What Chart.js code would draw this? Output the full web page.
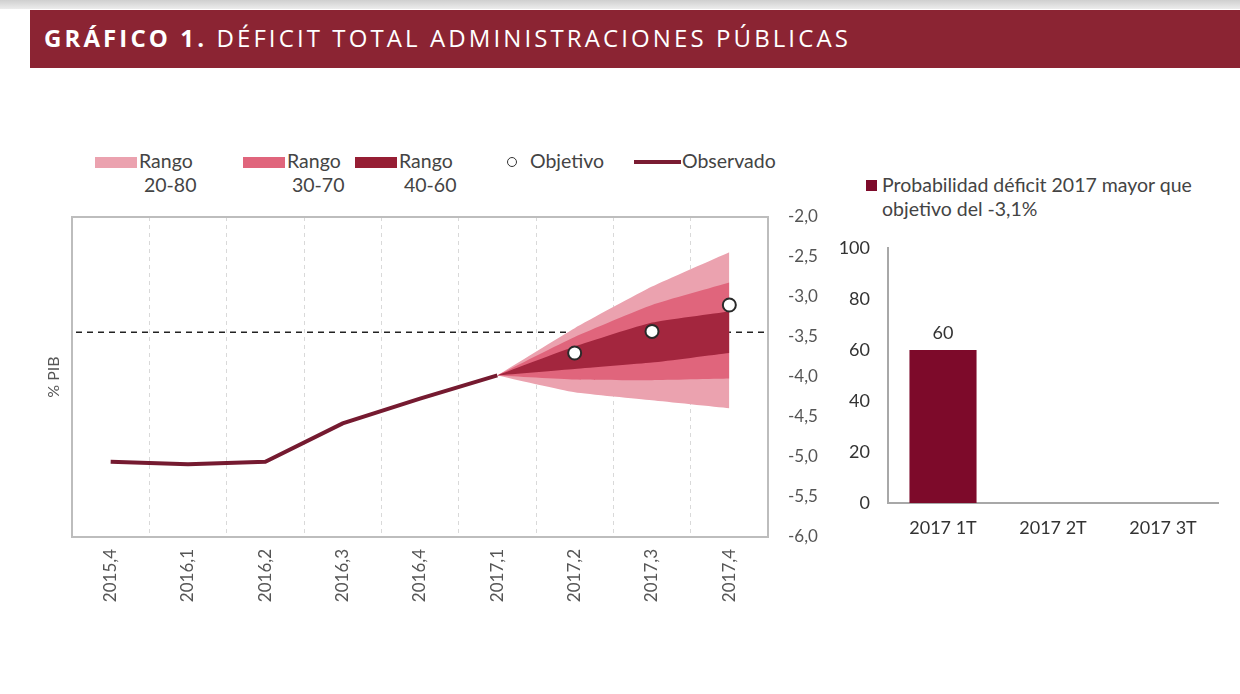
<!DOCTYPE html>
<html>
<head>
<meta charset="utf-8">
<script src="https://cdn.jsdelivr.net/npm/chart.js@4.4.1/dist/chart.umd.min.js"></script>
<style>
  html, body { margin: 0; padding: 0; background: #fff; }
  body { width: 1240px; height: 694px; position: relative; overflow: hidden; font-family: Lato, "Open Sans", sans-serif; }
  .topstrip { position: absolute; left: 0; top: 0; width: 1240px; height: 9px; background: linear-gradient(#cfcfcf, #ececec); }
  .titlebar { position: absolute; left: 30px; top: 10px; width: 1210px; height: 58px; background: #8b2433; }
  .titlebar span { position: absolute; left: 14px; top: 11px; color: #fff; font-family: "Open Sans", sans-serif; font-size: 24px; letter-spacing: 3.1px; white-space: nowrap; }
  .lg { position: absolute; font-size: 19.5px; color: #444; line-height: 24px; }
  .sw { position: absolute; width: 42px; height: 11px; }
  #c1wrap { position: absolute; left: 0; top: 200px; width: 840px; height: 420px; }
  #c2wrap { position: absolute; left: 840px; top: 230px; width: 400px; height: 330px; }
</style>
</head>
<body>
<div class="topstrip"></div>
<div class="titlebar"><span><b>GRÁFICO 1.</b> DÉFICIT TOTAL ADMINISTRACIONES PÚBLICAS</span></div>

<div class="sw" style="left:95px;top:157px;background:#eba2af;"></div>
<div class="lg" style="left:139px;top:149px;">Rango<br>&nbsp;20-80</div>
<div class="sw" style="left:243px;top:157px;background:#e0657c;"></div>
<div class="lg" style="left:287px;top:149px;">Rango<br>&nbsp;30-70</div>
<div class="sw" style="left:355px;top:157px;background:#961e34;"></div>
<div class="lg" style="left:399px;top:149px;">Rango<br>&nbsp;40-60</div>
<div style="position:absolute;left:507px;top:157px;width:8px;height:8px;border:1.5px solid #333;border-radius:50%;background:#fff;"></div>
<div class="lg" style="left:530px;top:149px;">Objetivo</div>
<div style="position:absolute;left:634px;top:160px;width:47px;height:4px;background:#7a1c32;"></div>
<div class="lg" style="left:682px;top:149px;">Observado</div>

<div style="position:absolute;left:866px;top:180px;width:11px;height:11px;background:#7d0a2a;"></div>
<div class="lg" style="left:882px;top:173px;">Probabilidad déficit 2017 mayor que<br>objetivo del -3,1%</div>

<div id="c1wrap"><canvas id="c1"></canvas></div>
<div id="c2wrap"><canvas id="c2"></canvas></div>

<script>
// ---- data ----
const periods = ["2015,4","2016,1","2016,2","2016,3","2016,4","2017,1","2017,2","2017,3","2017,4"];
const observado = [-5.06, -5.09, -5.06, -4.58, -4.27, -3.98, null, null, null];
const objetivo  = [null, null, null, null, null, null, -3.7, -3.43, -3.1];
const rango2080Top = [null, null, null, null, null, -3.98, -3.39, -2.87, -2.44];
const rango2080Bot = [null, null, null, null, null, -3.98, -4.19, -4.29, -4.39];
const rango3070Top = [null, null, null, null, null, -3.98, -3.5, -3.1, -2.82];
const rango3070Bot = [null, null, null, null, null, -3.98, -4.03, -4.04, -4.02];
const rango4060Top = [null, null, null, null, null, -3.98, -3.62, -3.32, -3.18];
const rango4060Bot = [null, null, null, null, null, -3.98, -3.9, -3.82, -3.7];
const referenceLine = -3.44;
const yTicks = [-2, -2.5, -3, -3.5, -4, -4.5, -5, -5.5, -6];

const barCategories = ["2017 1T", "2017 2T", "2017 3T"];
const probabilidad = [60, null, null];

Chart.defaults.font.family = "Lato, 'Open Sans', sans-serif";
Chart.defaults.animation = false;

const boxPlugin = {
  id: 'box',
  beforeDatasetsDraw(chart) {
    const ctx = chart.ctx, a = chart.chartArea;
    const y = chart.scales.y.getPixelForValue(referenceLine);
    ctx.save();
    ctx.strokeStyle = '#222';
    ctx.lineWidth = 1.6;
    ctx.setLineDash([6, 5]);
    ctx.beginPath();
    ctx.moveTo(a.left + 4, y);
    ctx.lineTo(a.right, y);
    ctx.stroke();
    ctx.restore();
  },
  afterDraw(chart) {
    const ctx = chart.ctx, a = chart.chartArea;
    ctx.save();
    ctx.strokeStyle = '#bdbdbd';
    ctx.lineWidth = 2;
    ctx.strokeRect(a.left, a.top, a.right - a.left, a.bottom - a.top);
    ctx.restore();
  }
};

const fanDs = (data, color, fillTarget, order) => ({
  data, yAxisID: 'y', backgroundColor: color, borderWidth: 0, pointRadius: 0,
  fill: fillTarget === null ? false : fillTarget, order, tension: 0.15
});

new Chart(document.getElementById('c1'), {
  type: 'line',
  data: {
    labels: periods,
    datasets: [
      fanDs(rango2080Top, '#eba2af', 1, 10),
      fanDs(rango2080Bot, 'rgba(0,0,0,0)', null, 9),
      fanDs(rango3070Top, '#e0657c', 3, 8),
      fanDs(rango3070Bot, 'rgba(0,0,0,0)', null, 7),
      fanDs(rango4060Top, '#a3263e', 5, 6),
      fanDs(rango4060Bot, 'rgba(0,0,0,0)', null, 5),
      { data: observado, yAxisID: 'y', borderColor: '#751a30', borderWidth: 4, pointRadius: 0, fill: false, order: 1, borderCapStyle: 'butt' },
      { data: objetivo, yAxisID: 'y', showLine: false, pointRadius: 6.5, pointBackgroundColor: '#fff', pointBorderColor: '#2a2a2a', pointBorderWidth: 2, order: 0 }
    ]
  },
  options: {
    responsive: true, maintainAspectRatio: false,
    layout: { padding: { top: 17, left: 0, right: 0, bottom: 0 } },
    plugins: { legend: { display: false }, tooltip: { enabled: false } },
    scales: {
      x: {
        offset: true,
        grid: { offset: true, color: '#d9d9d9', lineWidth: 1, drawTicks: false },
        border: { display: false, dash: [4, 4] },
        ticks: { color: '#555', font: { size: 17 }, minRotation: 90, maxRotation: 90, padding: 12, autoSkip: false },
        afterFit(s) { s.height = 83; s.paddingLeft = 0; s.paddingRight = 0; }
      },
      y: {
        position: 'right', min: -6, max: -2,
        afterBuildTicks(s) { s.ticks = yTicks.map(v => ({ value: v })); },
        grid: { display: false, drawTicks: false },
        border: { display: false },
        ticks: {
          color: '#555', font: { size: 17 }, padding: 20,
          callback: v => v.toFixed(1).replace('.', ',')
        },
        afterFit(s) { s.width = 72; s.paddingTop = 0; s.paddingBottom = 0; }
      },
      yL: {
        position: 'left',
        grid: { display: false, drawTicks: false },
        border: { display: false },
        ticks: { display: false },
        title: { display: true, text: '% PIB', color: '#555', font: { size: 16 }, padding: { top: 44, bottom: 0 } },
        afterFit(s) { s.width = 72; s.paddingTop = 0; s.paddingBottom = 0; }
      }
    }
  },
  plugins: [boxPlugin]
});

const labelPlugin = {
  id: 'barLabel',
  afterDatasetsDraw(chart) {
    const ctx = chart.ctx;
    const meta = chart.getDatasetMeta(0);
    ctx.save();
    ctx.fillStyle = '#333';
    ctx.font = "18px Lato, 'Open Sans', sans-serif";
    ctx.textAlign = 'center';
    ctx.textBaseline = 'bottom';
    meta.data.forEach((el, i) => {
      const v = probabilidad[i];
      if (v === null || v === undefined) return;
      ctx.fillText(String(v), el.x, el.y - 8);
    });
    ctx.restore();
  }
};

new Chart(document.getElementById('c2'), {
  type: 'bar',
  data: {
    labels: barCategories,
    datasets: [{ data: probabilidad, backgroundColor: '#7d0a2a', categoryPercentage: 1, barPercentage: 0.61 }]
  },
  options: {
    responsive: true, maintainAspectRatio: false,
    layout: { padding: { top: 18, left: 0, right: 22, bottom: 0 } },
    plugins: { legend: { display: false }, tooltip: { enabled: false } },
    scales: {
      x: {
        grid: { display: false, drawTicks: false },
        border: { display: true, color: '#a8a8a8', width: 2 },
        ticks: { color: '#333', font: { size: 18 }, padding: 14 },
        afterFit(s) { s.height = 57; s.paddingLeft = 0; s.paddingRight = 0; }
      },
      y: {
        min: 0, max: 100,
        grid: { display: false, drawTicks: false },
        border: { display: true, color: '#a8a8a8', width: 2 },
        ticks: { stepSize: 20, color: '#333', font: { size: 18 }, padding: 18 },
        afterFit(s) { s.width = 48; s.paddingTop = 0; s.paddingBottom = 0; }
      }
    }
  },
  plugins: [labelPlugin]
});
</script>
</body>
</html>
